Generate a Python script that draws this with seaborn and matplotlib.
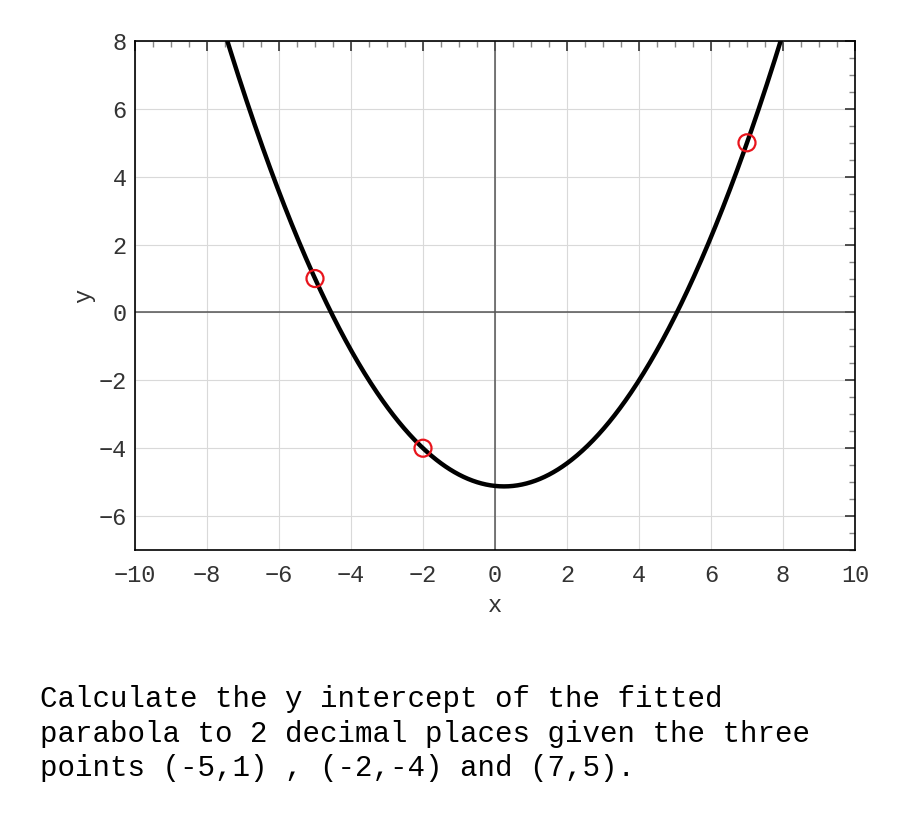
import numpy as np
import pandas as pd
import matplotlib
matplotlib.use("Agg")
import matplotlib.pyplot as plt
import seaborn as sns
from matplotlib.ticker import MultipleLocator

# ── the three given points ──────────────────────────────
pts_x = [-5, -2, 7]
pts_y = [1, -4, 5]

x_ticks = [-10, -8, -6, -4, -2, 0, 2, 4, 6, 8, 10]
y_ticks = [-6, -4, -2, 0, 2, 4, 6, 8]

question = ("Calculate the y intercept of the fitted\n"
            "parabola to 2 decimal places given the three\n"
            "points (-5,1) , (-2,-4) and (7,5).")

# fitted parabola through the points
coef = np.polyfit(pts_x, pts_y, 2)
curve_x = np.linspace(-10, 10, 801)
curve = pd.DataFrame({"x": curve_x, "y": np.polyval(coef, curve_x)})
points = pd.DataFrame({"x": pts_x, "y": pts_y})

sns.set_theme(style="white")
plt.rcParams["font.family"] = ["Liberation Mono", "DejaVu Sans"]

fig = plt.figure(figsize=(9, 8.25), dpi=100)
ax = fig.add_axes([0.15, 0.3333, 0.80, 0.617])

ax.grid(True, which="major", color="#d9d9d9", linewidth=0.8)
ax.axhline(0, color="#555555", linewidth=1.1, zorder=1)
ax.axvline(0, color="#555555", linewidth=1.1, zorder=1)

sns.lineplot(data=curve, x="x", y="y", ax=ax, color="black", linewidth=3.2,
             sort=False, zorder=3)
sns.scatterplot(data=points, x="x", y="y", ax=ax, s=150, facecolor="none",
                edgecolor="#e8141c", linewidth=1.6, zorder=4)

ax.set_xlim(-10, 10)
ax.set_ylim(-7, 8)
ax.set_xticks(x_ticks)
ax.set_yticks(y_ticks)
ax.xaxis.set_minor_locator(MultipleLocator(0.5))
ax.yaxis.set_minor_locator(MultipleLocator(0.5))
ax.tick_params(which="both", direction="in", top=True, right=True,
               labelsize=17, colors="#333333")
ax.tick_params(axis="x", which="major", pad=10)
ax.tick_params(axis="y", which="major", pad=6)
ax.tick_params(which="major", length=7, width=1.2)
ax.tick_params(which="minor", length=4, width=1, color="#888888")
for s in ax.spines.values():
    s.set_color("black")
    s.set_linewidth(1.2)

ax.set_xlabel("x", fontsize=17, color="#333333", labelpad=5)
ax.set_ylabel("y", fontsize=17, color="#333333", labelpad=2)

fig.text(40 / 900, 1 - 685 / 825, question, fontsize=21, va="top", ha="left",
         linespacing=1.3, color="black")

fig.savefig("out.png", dpi=100)
